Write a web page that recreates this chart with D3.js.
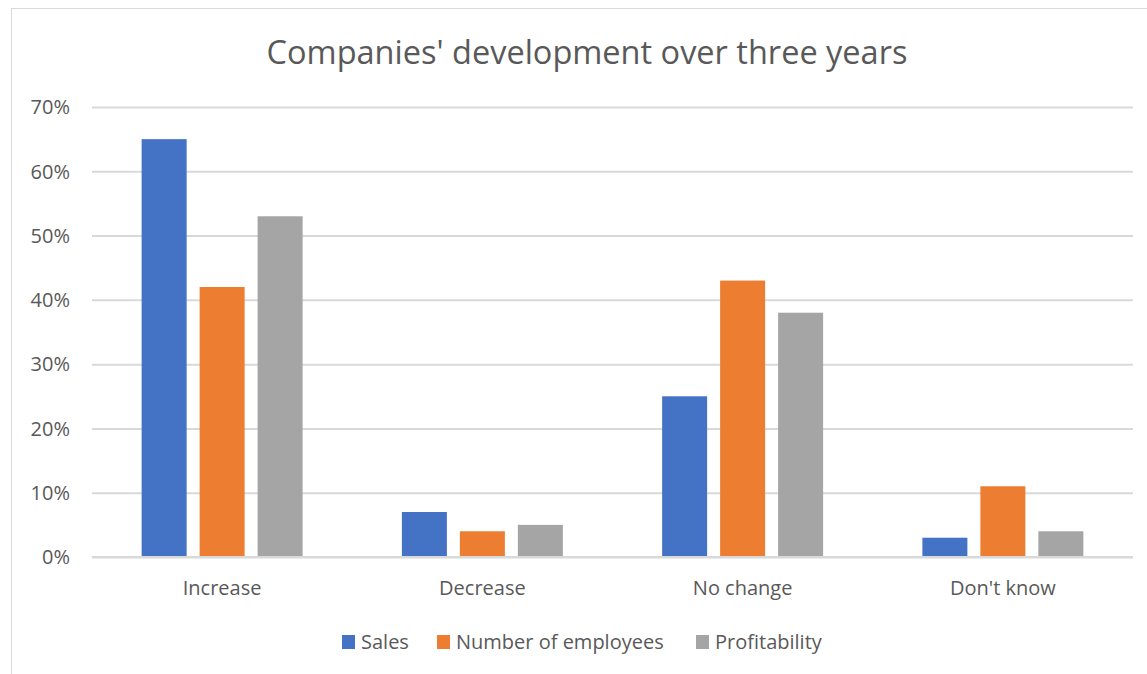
<!DOCTYPE html>
<html>
<head>
<meta charset="utf-8">
<script src="https://cdn.jsdelivr.net/npm/d3@7"></script>
<style>
  html, body { margin: 0; padding: 0; background: #fff; }
  svg { display: block; font-family: "Open Sans", "Noto Sans", sans-serif; }
</style>
</head>
<body>
<svg id="chart" width="1147" height="674"></svg>
<script>
// Survey answers per outcome category
const categories = ["Increase", "Decrease", "No change", "Don't know"];
const seriesNames = ["Sales", "Number of employees", "Profitability"];
const sales = [0.65, 0.07, 0.25, 0.03];
const employees = [0.42, 0.04, 0.43, 0.11];
const profitability = [0.53, 0.05, 0.38, 0.04];
const yTicks = [0, 0.1, 0.2, 0.3, 0.4, 0.5, 0.6, 0.7];
const colors = ["#4472c4", "#ed7d31", "#a5a5a5"];

const seriesValues = [sales, employees, profitability];
const rows = categories.map((c, i) => ({
  category: c,
  values: seriesNames.map((s, j) => ({ series: s, value: seriesValues[j][i] }))
}));

const svg = d3.select("#chart");
const W = 1147, H = 674;
const margin = { left: 92, right: 14, top: 107, bottom: 117 };
const innerW = W - margin.left - margin.right;
const innerH = H - margin.top - margin.bottom;
const textColor = "#595959";
const labelSize = 20;

// Outer chart frame
svg.append("rect")
  .attr("x", 11.5).attr("y", 8.5)
  .attr("width", W + 10).attr("height", H + 10)
  .attr("fill", "#fff").attr("stroke", "#d9d9d9").attr("stroke-width", 1);

svg.append("text")
  .attr("x", 587).attr("y", 64)
  .attr("text-anchor", "middle")
  .attr("fill", textColor)
  .attr("font-size", 32.5)
  .text("Companies' development over three years");

const g = svg.append("g").attr("transform", `translate(${margin.left},${margin.top})`);

const x0 = d3.scaleBand().domain(categories).range([0, innerW]).paddingInner(0).paddingOuter(0);
const x1 = d3.scaleBand().domain(seriesNames).range([0, x0.bandwidth()]).paddingInner(0.224).paddingOuter(0.856);
const y = d3.scaleLinear().domain([0, 0.7]).range([innerH, 0]);

// Horizontal gridlines
const yAxis = d3.axisLeft(y).tickValues(yTicks).tickFormat(d3.format(".0%")).tickSize(-innerW).tickPadding(22);
const ya = g.append("g").call(yAxis);
ya.select(".domain").remove();
ya.selectAll(".tick line").attr("stroke", "#d9d9d9").attr("stroke-width", 2);
ya.selectAll(".tick text").attr("fill", textColor).attr("font-size", labelSize)
  .attr("font-family", "\"Open Sans\", sans-serif").attr("dy", "0.34em");

// Bars
const groups = g.selectAll(".cat").data(rows).join("g")
  .attr("transform", d => `translate(${x0(d.category)},0)`);
groups.selectAll("rect").data(d => d.values).join("rect")
  .attr("x", d => x1(d.series))
  .attr("width", x1.bandwidth())
  .attr("y", d => y(d.value))
  .attr("height", d => innerH - y(d.value))
  .attr("fill", (d, i) => colors[i]);

// Baseline redrawn above bars
g.append("line").attr("x1", 0).attr("x2", innerW).attr("y1", innerH).attr("y2", innerH)
  .attr("stroke", "#d9d9d9").attr("stroke-width", 2);

// Category labels
const xAxis = d3.axisBottom(x0).tickSize(0).tickPadding(24);
const xa = g.append("g").attr("transform", `translate(0,${innerH})`).call(xAxis);
xa.select(".domain").remove();
xa.selectAll(".tick text").attr("fill", textColor).attr("font-size", labelSize)
  .attr("font-family", "\"Open Sans\", sans-serif");

// Legend
const legendItems = [
  { name: seriesNames[0], x: 342 },
  { name: seriesNames[1], x: 437 },
  { name: seriesNames[2], x: 696 }
];
const lg = svg.append("g");
legendItems.forEach((it, i) => {
  lg.append("rect").attr("x", it.x).attr("y", 635).attr("width", 13).attr("height", 14).attr("fill", colors[i]);
  lg.append("text").attr("x", it.x + 19).attr("y", 649)
    .attr("fill", textColor).attr("font-size", labelSize).text(it.name);
});
</script>
</body>
</html>
